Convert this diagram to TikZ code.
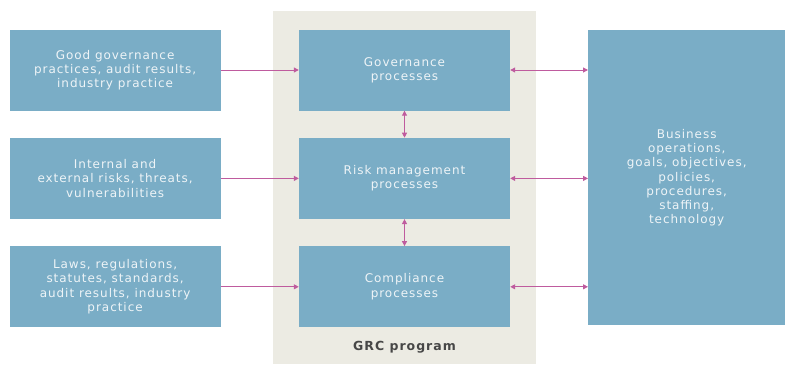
\documentclass[tikz,border=0pt]{standalone}
\usepackage{fontspec}
\setmainfont[LetterSpace=8]{DejaVu Sans}
\usetikzlibrary{arrows.meta,positioning}
\definecolor{Box}{HTML}{7AADC6}
\definecolor{Panel}{HTML}{ECEBE3}
\definecolor{Link}{HTML}{BF5B9E}
\definecolor{Label}{HTML}{474747}
\definecolor{Ink}{HTML}{EEF4F7}

\begin{document}
\begin{tikzpicture}[x=1pt,y=-1pt,
    b/.style={fill=Box,text=Ink,minimum width=211pt,minimum height=81pt,align=center,inner sep=0pt,
      font=\fontsize{12}{14.3}\selectfont},
    a/.style={-{Triangle[length=5pt,width=5pt]},line width=1pt,draw=Link},
    aa/.style={a,{Triangle[length=5pt,width=5pt]}-{Triangle[length=5pt,width=5pt]}}]
    \useasboundingbox (0,0) rectangle (785,365);
    \fill[Panel] (273,11) rectangle (536,364);
    \node[b] (gov) at (404.5,70) {Governance\\processes};
    \node[b,below=27pt of gov] (risk) {Risk management\\processes};
    \node[b,below=27pt of risk] (comp) {Compliance\\processes};
    \node[font=\fontsize{12.5}{14}\selectfont\bfseries,text=Label] (grc) at (404.5,347) {GRC program};
    \node[b,left=78pt of gov] (good) {Good governance\\practices, audit results,\\industry practice};
    \node[b,left=78pt of risk] (threat) {Internal and\\external risks, threats,\\vulnerabilities};
    \node[b,left=78pt of comp] (laws) {Laws, regulations,\\statutes, standards,\\audit results, industry\\practice};
    \node[b,anchor=north west,minimum width=197pt,minimum height=295pt] (biz) at (588,30)
      {Business\\operations,\\goals, objectives,\\policies,\\procedures,\\staffing,\\technology};
    \draw[a] (good)--(gov); \draw[a] (threat)--(risk); \draw[a] (laws)--(comp);
    \draw[aa] (gov.east)--(gov.east-|biz.west);
    \draw[aa] (risk.east)--(risk.east-|biz.west);
    \draw[aa] (comp.east)--(comp.east-|biz.west);
    \draw[aa] (gov)--(risk); \draw[aa] (risk)--(comp);
  \end{tikzpicture}
\end{document}
